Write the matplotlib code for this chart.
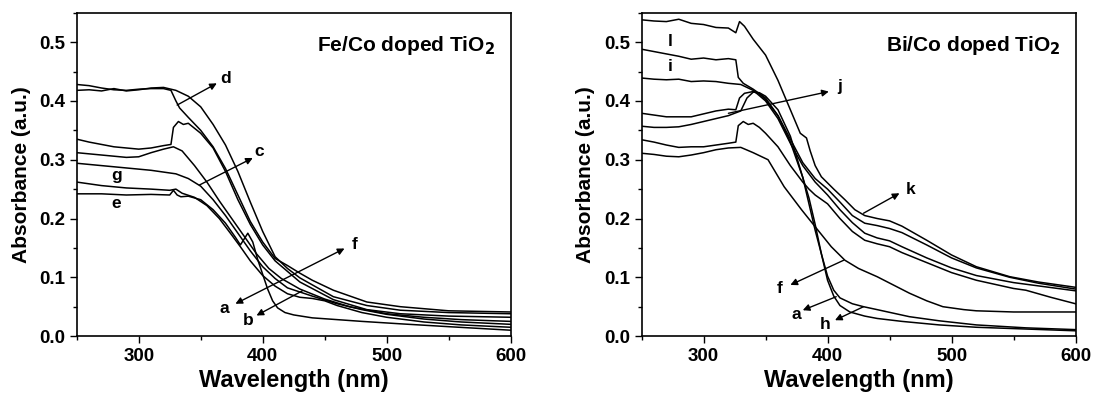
import numpy as np
import matplotlib
matplotlib.use("Agg")
import matplotlib.pyplot as plt
from matplotlib.ticker import MultipleLocator

plt.rcParams['font.family'] = ['Liberation Sans', 'DejaVu Sans']
plt.rcParams['font.weight'] = 'bold'

# ---- Fe/Co doped TiO2 (left panel) ----
fe_d1_wl = [250, 260, 270, 280, 290, 300, 310, 320, 326, 330, 333, 340, 350, 360, 370, 380, 390, 400, 410, 420, 430, 440, 457, 484, 511, 550, 600]
fe_d1_a = [0.428, 0.426, 0.422, 0.419, 0.418, 0.420, 0.421, 0.421, 0.418, 0.400, 0.388, 0.372, 0.350, 0.322, 0.285, 0.240, 0.195, 0.160, 0.132, 0.120, 0.107, 0.095, 0.078, 0.058, 0.050, 0.043, 0.041]

fe_d2_wl = [250, 260, 270, 280, 290, 300, 310, 320, 330, 340, 350, 360, 370, 380, 390, 400, 410, 420, 430, 457, 484, 511, 550, 600]
fe_d2_a = [0.418, 0.419, 0.417, 0.421, 0.417, 0.419, 0.422, 0.423, 0.418, 0.408, 0.390, 0.360, 0.325, 0.280, 0.228, 0.178, 0.135, 0.115, 0.099, 0.067, 0.052, 0.044, 0.040, 0.038]

fe_c_wl = [250, 260, 270, 280, 290, 300, 310, 320, 326, 328, 332, 336, 340, 350, 360, 370, 380, 390, 400, 410, 420, 430, 457, 484, 511, 550, 600]
fe_c_a = [0.335, 0.330, 0.326, 0.322, 0.320, 0.318, 0.320, 0.324, 0.326, 0.355, 0.365, 0.360, 0.362, 0.345, 0.320, 0.280, 0.232, 0.190, 0.155, 0.128, 0.110, 0.092, 0.062, 0.045, 0.038, 0.034, 0.032]

fe_31_wl = [250, 270, 290, 300, 310, 320, 328, 335, 345, 355, 365, 375, 385, 395, 405, 415, 430, 450, 470, 500, 530, 560, 600]
fe_31_a = [0.312, 0.308, 0.304, 0.305, 0.312, 0.318, 0.322, 0.315, 0.290, 0.262, 0.230, 0.200, 0.170, 0.140, 0.115, 0.098, 0.080, 0.063, 0.050, 0.038, 0.032, 0.028, 0.025]

fe_g_wl = [250, 270, 290, 310, 330, 340, 350, 360, 370, 380, 390, 400, 410, 420, 440, 460, 480, 500, 530, 560, 600]
fe_g_a = [0.294, 0.290, 0.286, 0.282, 0.276, 0.268, 0.255, 0.232, 0.205, 0.175, 0.145, 0.118, 0.098, 0.082, 0.068, 0.055, 0.045, 0.037, 0.029, 0.024, 0.020]

fe_26_wl = [250, 270, 290, 310, 325, 330, 335, 345, 355, 365, 375, 382, 390, 400, 410, 420, 430, 440, 450, 460, 480, 500, 530, 560, 600]
fe_26_a = [0.262, 0.256, 0.252, 0.250, 0.248, 0.250, 0.243, 0.236, 0.222, 0.200, 0.172, 0.152, 0.128, 0.103, 0.085, 0.072, 0.066, 0.064, 0.060, 0.052, 0.040, 0.032, 0.024, 0.019, 0.015]

fe_e_wl = [250, 270, 290, 310, 325, 328, 331, 334, 340, 350, 360, 370, 378, 382, 385, 388, 392, 396, 400, 404, 408, 412, 418, 425, 440, 460, 480, 510, 550, 600]
fe_e_a = [0.242, 0.242, 0.240, 0.241, 0.240, 0.248, 0.240, 0.237, 0.238, 0.232, 0.215, 0.192, 0.168, 0.155, 0.165, 0.175, 0.160, 0.130, 0.105, 0.080, 0.060, 0.048, 0.040, 0.036, 0.031, 0.028, 0.025, 0.021, 0.016, 0.010]

# ---- Bi/Co doped TiO2 (right panel) ----
bi_l_wl = [250, 260, 270, 280, 290, 300, 310, 320, 326, 329, 333, 340, 350, 360, 370, 378, 383, 386, 390, 395, 405, 414, 422, 430, 440, 450, 460, 480, 500, 520, 547, 570, 600]
bi_l_a = [0.538, 0.536, 0.535, 0.539, 0.532, 0.530, 0.525, 0.524, 0.516, 0.535, 0.527, 0.505, 0.478, 0.435, 0.385, 0.345, 0.337, 0.315, 0.290, 0.271, 0.250, 0.232, 0.215, 0.205, 0.200, 0.196, 0.187, 0.163, 0.138, 0.118, 0.101, 0.092, 0.083]

bi_i_wl = [250, 260, 270, 280, 290, 300, 310, 320, 326, 328, 332, 340, 350, 360, 370, 380, 390, 400, 410, 420, 430, 440, 450, 460, 480, 500, 520, 547, 570, 600]
bi_i_a = [0.488, 0.484, 0.480, 0.476, 0.471, 0.473, 0.470, 0.472, 0.470, 0.440, 0.430, 0.420, 0.405, 0.375, 0.335, 0.295, 0.268, 0.250, 0.228, 0.205, 0.192, 0.188, 0.183, 0.176, 0.155, 0.133, 0.116, 0.100, 0.090, 0.080]

bi_44_wl = [250, 260, 270, 280, 290, 300, 310, 320, 330, 340, 350, 360, 370, 380, 390, 400, 410, 420, 430, 440, 450, 460, 480, 500, 520, 550, 600]
bi_44_a = [0.439, 0.437, 0.436, 0.437, 0.433, 0.434, 0.433, 0.430, 0.428, 0.418, 0.400, 0.370, 0.328, 0.290, 0.262, 0.240, 0.215, 0.193, 0.175, 0.167, 0.162, 0.152, 0.133, 0.116, 0.103, 0.091, 0.077]

bi_h_wl = [250, 260, 270, 280, 290, 300, 310, 320, 326, 329, 333, 340, 345, 350, 360, 370, 380, 385, 390, 395, 400, 405, 410, 418, 430, 440, 460, 490, 520, 560, 600]
bi_h_a = [0.379, 0.376, 0.373, 0.373, 0.373, 0.378, 0.383, 0.386, 0.385, 0.405, 0.413, 0.416, 0.412, 0.402, 0.375, 0.330, 0.270, 0.235, 0.190, 0.140, 0.095, 0.068, 0.052, 0.041, 0.034, 0.030, 0.025, 0.019, 0.015, 0.012, 0.009]

bi_a_wl = [250, 260, 270, 280, 290, 300, 310, 320, 330, 335, 340, 345, 350, 360, 370, 375, 380, 385, 390, 395, 400, 405, 410, 420, 429, 440, 466, 490, 520, 560, 600]
bi_a_a = [0.357, 0.355, 0.355, 0.356, 0.360, 0.365, 0.370, 0.375, 0.383, 0.405, 0.415, 0.414, 0.408, 0.385, 0.340, 0.305, 0.270, 0.225, 0.180, 0.140, 0.102, 0.078, 0.065, 0.055, 0.050, 0.045, 0.033, 0.026, 0.019, 0.014, 0.011]

bi_33_wl = [250, 260, 270, 280, 290, 300, 310, 320, 326, 328, 332, 336, 340, 345, 350, 360, 370, 380, 385, 390, 400, 410, 420, 430, 440, 450, 460, 480, 500, 520, 550, 560, 580, 600]
bi_33_a = [0.334, 0.330, 0.325, 0.321, 0.322, 0.322, 0.325, 0.328, 0.330, 0.358, 0.365, 0.360, 0.362, 0.355, 0.345, 0.322, 0.290, 0.262, 0.250, 0.240, 0.225, 0.200, 0.178, 0.163, 0.157, 0.152, 0.142, 0.125, 0.108, 0.095, 0.081, 0.078, 0.066, 0.055]

bi_f_wl = [250, 260, 270, 280, 290, 300, 310, 320, 330, 340, 352, 365, 379, 390, 403, 414, 425, 440, 453, 466, 480, 493, 510, 520, 550, 600]
bi_f_a = [0.311, 0.309, 0.306, 0.305, 0.308, 0.312, 0.317, 0.320, 0.321, 0.312, 0.300, 0.254, 0.215, 0.186, 0.152, 0.129, 0.115, 0.101, 0.087, 0.073, 0.060, 0.050, 0.045, 0.043, 0.041, 0.041]

fe_curves = [(fe_d1_wl, fe_d1_a), (fe_d2_wl, fe_d2_a), (fe_c_wl, fe_c_a), (fe_31_wl, fe_31_a),
             (fe_g_wl, fe_g_a), (fe_26_wl, fe_26_a), (fe_e_wl, fe_e_a)]
bi_curves = [(bi_l_wl, bi_l_a), (bi_i_wl, bi_i_a), (bi_44_wl, bi_44_a), (bi_h_wl, bi_h_a),
             (bi_a_wl, bi_a_a), (bi_33_wl, bi_33_a), (bi_f_wl, bi_f_a)]


def setup_axes(ax, title):
    ax.set_xlim(250, 600)
    ax.set_ylim(0, 0.55)
    ax.xaxis.set_major_locator(MultipleLocator(100))
    ax.xaxis.set_minor_locator(MultipleLocator(50))
    ax.yaxis.set_major_locator(MultipleLocator(0.1))
    ax.yaxis.set_minor_locator(MultipleLocator(0.05))
    ax.tick_params(which='major', direction='out', length=5, width=1, labelsize=13.5, top=False, right=False)
    ax.tick_params(which='minor', direction='out', length=3, width=1, top=False, right=False)
    for lab in ax.get_xticklabels() + ax.get_yticklabels():
        lab.set_fontweight('bold')
    ax.set_xlabel("Wavelength (nm)", fontsize=17, fontweight='bold', labelpad=3)
    ax.set_ylabel("Absorbance (a.u.)", fontsize=15, fontweight='bold', labelpad=6)
    for s in ax.spines.values():
        s.set_linewidth(1.2)
    ax.text(0.965, 0.935, title, transform=ax.transAxes, ha='right', va='top',
            fontsize=15, fontweight='bold')


def arrow(ax, xy, xytext, style='-|>'):
    ax.annotate('', xy=xy, xytext=xytext,
                arrowprops=dict(arrowstyle=style, color='black', lw=1.0,
                                mutation_scale=10, shrinkA=0, shrinkB=0))


def label(ax, x, y, s):
    ax.text(x, y, s, fontsize=12.5, fontweight='bold', ha='center', va='center')


fig = plt.figure(figsize=(10.93, 3.94), dpi=100)
ax1 = fig.add_axes([0.0702, 0.147, 0.397, 0.8206])
ax2 = fig.add_axes([0.587, 0.147, 0.397, 0.8206])

for wl, a in fe_curves:
    ax1.plot(wl, a, color='black', lw=1.1)
for wl, a in bi_curves:
    ax2.plot(wl, a, color='black', lw=1.1)

setup_axes(ax1, "Fe/Co doped TiO$_\\mathbf{2}$")
setup_axes(ax2, "Bi/Co doped TiO$_\\mathbf{2}$")

# left panel annotations
arrow(ax1, (363, 0.430), (331, 0.393))
label(ax1, 370, 0.438, 'd')
arrow(ax1, (392, 0.303), (349, 0.257))
label(ax1, 397.5, 0.314, 'c')
label(ax1, 282, 0.273, 'g')
label(ax1, 282, 0.226, 'e')
arrow(ax1, (466, 0.149), (378, 0.055), style='<|-|>')
label(ax1, 369, 0.047, 'a')
label(ax1, 474, 0.155, 'f')
arrow(ax1, (395, 0.035), (432, 0.077))
label(ax1, 388, 0.026, 'b')

# right panel annotations
label(ax2, 273, 0.501, 'l')
label(ax2, 273, 0.459, 'i')
arrow(ax2, (401, 0.416), (320, 0.379))
label(ax2, 410, 0.425, 'j')
arrow(ax2, (458, 0.243), (429, 0.209))
label(ax2, 467, 0.249, 'k')
arrow(ax2, (370, 0.087), (413, 0.129))
label(ax2, 361, 0.081, 'f')
arrow(ax2, (380, 0.044), (407, 0.067))
label(ax2, 375, 0.036, 'a')
arrow(ax2, (406, 0.027), (429, 0.050))
label(ax2, 398, 0.019, 'h')

fig.savefig("out.png", dpi=100)
